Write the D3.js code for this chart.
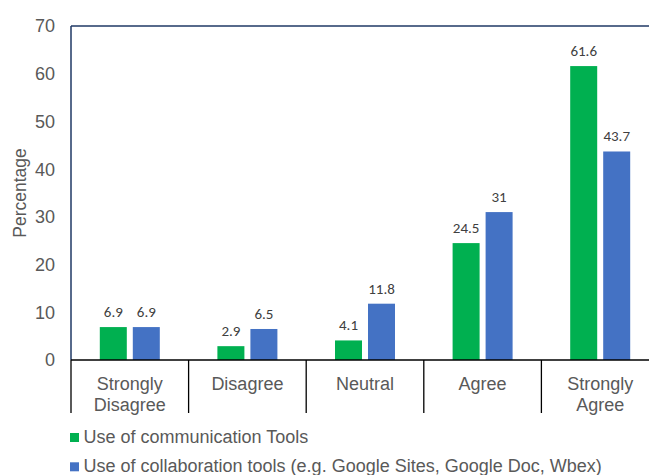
<!DOCTYPE html>
<html>
<head>
<meta charset="utf-8">
<script src="https://cdn.jsdelivr.net/npm/d3@7"></script>
<style>
  body { margin: 0; background: #fff; }
  svg { display: block; }
</style>
</head>
<body>
<svg id="chart" width="649" height="475"></svg>
<script>
const categories = [["Strongly", "Disagree"], ["Disagree"], ["Neutral"], ["Agree"], ["Strongly", "Agree"]];
const commValues = [6.9, 2.9, 4.1, 24.5, 61.6];
const collabValues = [6.9, 6.5, 11.8, 31, 43.7];
const seriesNames = ["Use of communication Tools", "Use of collaboration tools (e.g. Google Sites, Google Doc, Wbex)"];
const seriesColors = ["#00B050", "#4472C4"];
const yTicks = [0, 10, 20, 30, 40, 50, 60, 70];

const svg = d3.select("#chart");
const plotLeft = 71, plotTop = 26, plotBottom = 360, catW = 117.6;
const plotRight = plotLeft + catW * categories.length;

const x = d3.scaleBand().domain(d3.range(categories.length)).range([plotLeft, plotRight]);
const y = d3.scaleLinear().domain([0, 70]).range([plotBottom, plotTop]);
const barW = 27, gap = 6;

const grey = "#595959";
const font = "'Liberation Sans', Arial, sans-serif";

// y tick labels
svg.append("g")
  .selectAll("text")
  .data(yTicks)
  .join("text")
  .attr("x", 55)
  .attr("y", d => y(d))
  .attr("dy", "0.36em")
  .attr("text-anchor", "end")
  .attr("font-family", font)
  .attr("font-size", 18)
  .attr("fill", grey)
  .text(d => d);

// y title
svg.append("text")
  .attr("transform", `translate(26,${(plotTop + plotBottom) / 2}) rotate(-90)`)
  .attr("text-anchor", "middle")
  .attr("font-family", font)
  .attr("font-size", 17.5)
  .attr("fill", grey)
  .text("Percentage");

// frame
svg.append("line").attr("x1", plotLeft).attr("x2", 649).attr("y1", plotTop).attr("y2", plotTop)
  .attr("stroke", "#1F3864").attr("stroke-width", 1.5);
svg.append("line").attr("x1", plotLeft).attr("x2", plotLeft).attr("y1", plotTop).attr("y2", plotBottom)
  .attr("stroke", "#1F3864").attr("stroke-width", 1.5);

// bars
const series = [commValues, collabValues];
series.forEach((vals, si) => {
  const offset = si === 0 ? -gap / 2 - barW : gap / 2;
  const g = svg.append("g");
  g.selectAll("rect")
    .data(vals)
    .join("rect")
    .attr("x", (d, i) => x(i) + x.bandwidth() / 2 + offset)
    .attr("y", d => y(d))
    .attr("width", barW)
    .attr("height", d => plotBottom - y(d))
    .attr("fill", seriesColors[si]);
  g.selectAll("text")
    .data(vals)
    .join("text")
    .attr("x", (d, i) => x(i) + x.bandwidth() / 2 + offset + barW / 2)
    .attr("y", d => y(d) - 10)
    .attr("text-anchor", "middle")
    .attr("font-family", "Carlito, Calibri, 'Open Sans', sans-serif")
    .attr("font-size", 15)
    .attr("fill", "#404040")
    .text(d => d);
});

// x axis
svg.append("line").attr("x1", plotLeft).attr("x2", 649).attr("y1", plotBottom).attr("y2", plotBottom)
  .attr("stroke", "#000").attr("stroke-width", 1.5);
svg.append("g")
  .selectAll("line")
  .data(d3.range(categories.length + 1))
  .join("line")
  .attr("x1", i => plotLeft + i * catW)
  .attr("x2", i => plotLeft + i * catW)
  .attr("y1", plotBottom)
  .attr("y2", 413)
  .attr("stroke", "#000")
  .attr("stroke-width", 1.3);

const labels = svg.append("g")
  .selectAll("text")
  .data(categories)
  .join("text")
  .attr("text-anchor", "middle")
  .attr("font-family", font)
  .attr("font-size", 18)
  .attr("fill", grey);
labels.each(function(lines, i) {
  d3.select(this).selectAll("tspan")
    .data(lines)
    .join("tspan")
    .attr("x", x(i) + x.bandwidth() / 2)
    .attr("y", (d, j) => 390 + j * 20.5)
    .text(d => d);
});

// legend
const leg = svg.append("g")
  .selectAll("g")
  .data(seriesNames)
  .join("g")
  .attr("transform", (d, i) => `translate(70,${433 + i * 29.3})`);
leg.append("rect").attr("width", 9).attr("height", 9).attr("fill", (d, i) => seriesColors[i]);
leg.append("text")
  .attr("x", 13.5)
  .attr("y", 10)
  .attr("font-family", font)
  .attr("font-size", 18)
  .attr("fill", grey)
  .text(d => d);
</script>
</body>
</html>
